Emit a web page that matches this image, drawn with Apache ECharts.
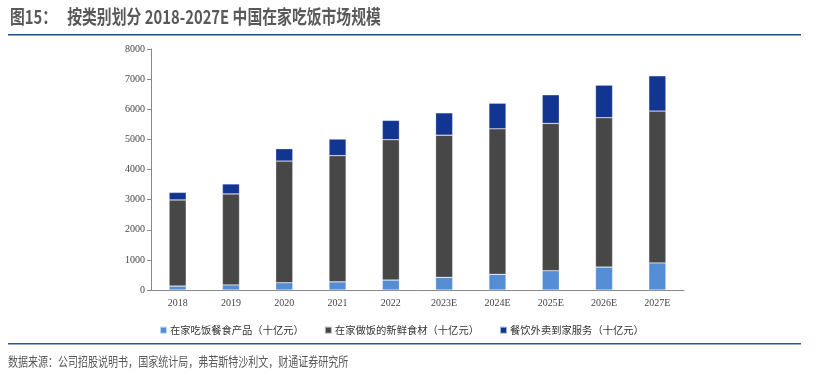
<!DOCTYPE html>
<html>
<head>
<meta charset="utf-8">
<script src="https://cdn.jsdelivr.net/npm/echarts@6/dist/echarts.min.js"></script>
<style>
html,body{margin:0;padding:0;background:#fff;}
#chart{width:818px;height:382px;}
</style>
</head>
<body>
<div id="chart"></div>
<script>
var categories = ['2018','2019','2020','2021','2022','2023E','2024E','2025E','2026E','2027E'];
var mealProducts = [130, 170, 240, 270, 330, 420, 520, 640, 760, 900];
var freshIngredients = [2860, 3020, 4040, 4190, 4660, 4720, 4830, 4890, 4960, 5040];
var deliveryService = [250, 330, 410, 550, 640, 740, 850, 950, 1080, 1170];
var yTicks = [0, 1000, 2000, 3000, 4000, 5000, 6000, 7000, 8000];
var seriesNames = ['在家吃饭餐食产品（十亿元）', '在家做饭的新鲜食材（十亿元）', '餐饮外卖到家服务（十亿元）'];
var titleText = '图15：   按类别划分 2018-2027E 中国在家吃饭市场规模';
var sourceText = '数据来源：公司招股说明书，国家统计局，弗若斯特沙利文，财通证券研究所';

var chart = echarts.init(document.getElementById('chart'));
var serif = '"Liberation Serif", "Times New Roman", serif';
var cjk = '"Noto Sans CJK SC", sans-serif';
function bar(name, data, color) {
  return {
    name: name, type: 'bar', stack: 'total', data: data, barWidth: '32%',
    itemStyle: { color: color, borderColor: 'rgba(255,255,255,0.6)', borderWidth: 0.5 }
  };
}
chart.setOption({
  animation: false,
  backgroundColor: '#fff',
  grid: { left: 151, right: 134, top: 49, bottom: 92 },
  legend: {
    data: seriesNames, left: 154, top: 320, itemWidth: 7, itemHeight: 7, itemGap: 20,
    icon: 'rect',
    textStyle: { fontFamily: cjk, fontSize: 10.3, color: '#333', padding: [0, 0, 0, -2] }
  },
  xAxis: {
    type: 'category', data: categories,
    axisLine: { lineStyle: { color: '#888', width: 1 } },
    axisTick: { show: false },
    axisLabel: { fontFamily: serif, fontSize: 10, color: '#444', margin: 8 }
  },
  yAxis: {
    type: 'value', min: yTicks[0], max: yTicks[yTicks.length - 1], interval: 1000,
    axisLine: { show: true, lineStyle: { color: '#888', width: 1 } },
    axisTick: { show: true, length: 4, lineStyle: { color: '#888' } },
    splitLine: { show: false },
    axisLabel: { fontFamily: serif, fontSize: 10, color: '#444', margin: 6,
      formatter: function (v) { return String(v); } }
  },
  series: [
    bar(seriesNames[0], mealProducts, '#548DD4'),
    bar(seriesNames[1], freshIngredients, '#474747'),
    bar(seriesNames[2], deliveryService, '#123592')
  ],
  graphic: [
    { type: 'text', left: 10, top: 7, scaleX: 0.78, originX: 0,
      style: { text: titleText, font: 'bold 19px "Noto Sans CJK SC", sans-serif', fill: '#595959' } },
    { type: 'rect', shape: { x: 8, y: 34, width: 793, height: 1.5 }, style: { fill: '#1F4E8C' } },
    { type: 'rect', shape: { x: 8, y: 343, width: 793, height: 1.5 }, style: { fill: '#1F5BAA' } },
    { type: 'text', left: 8, top: 355, scaleX: 0.77,
      style: { text: sourceText, font: '13px "Noto Sans CJK SC", sans-serif', fill: '#595959' } }
  ]
});
</script>
</body>
</html>
